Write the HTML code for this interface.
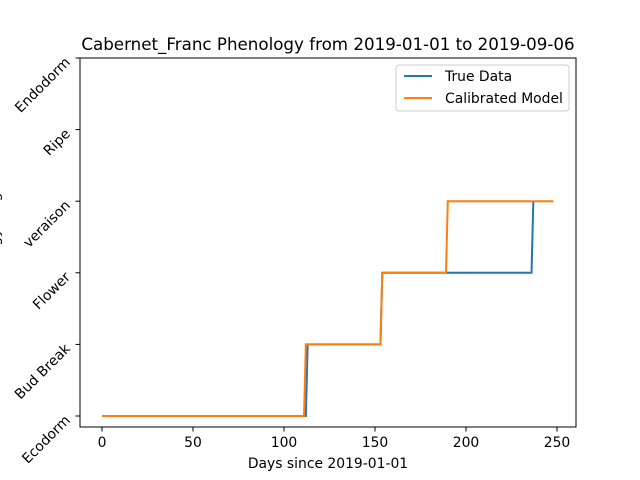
<!DOCTYPE html>
<html><head><meta charset="utf-8"><style>body{margin:0;background:#fff}svg{display:block;font-family:"DejaVu Sans","Liberation Sans",sans-serif}</style></head>
<body>
<svg id="c" width="640" height="480" xmlns="http://www.w3.org/2000/svg"></svg>
<script>
const stageLabels=["Ecodorm","Bud Break","Flower","veraison","Ripe","Endodorm"];
const xTicks=[0,50,100,150,200,250];
const trueDays=[0,112,113,153,154,236,237];
const trueStages=[0,0,1,1,2,2,3];
const calDays=[0,111,112,153,154,189,190,248];
const calStages=[0,0,1,1,2,2,3,3];
const L=80,R=576,T=58,B=427;
const x=d=>102+d*1.82;
const y=s=>416-s*71.6;
const svg=document.getElementById('c');
const NS='http://www.w3.org/2000/svg';
function mk(t,a,txt){const e=document.createElementNS(NS,t);for(const k in a)e.setAttribute(k,a[k]);if(txt!=null)e.textContent=txt;svg.appendChild(e);return e;}
function line(days,st,color,name){const e=mk('polyline',{points:days.map((d,i)=>x(d)+','+y(st[i])).join(' '),fill:'none',stroke:color,'stroke-width':2});

}
line(trueDays,trueStages,'#1f77b4','true-data-line');
line(calDays,calStages,'#ff7f0e','calibrated-model-line');
let ax=mk('rect',{x:L,y:T,width:R-L,height:B-T,fill:'none',stroke:'#000','stroke-width':1});


xTicks.forEach(v=>{mk('line',{x1:x(v),x2:x(v),y1:B,y2:B+4.5,stroke:'#000'});
let t=mk('text',{x:x(v),y:B+20,'font-size':13.9,'text-anchor':'middle'},v);

});
stageLabels.forEach((s,i)=>{const yy=y(i);mk('line',{x1:L-4.5,x2:L,y1:yy,y2:yy,stroke:'#000'});
let t=mk('text',{x:0,y:0,'font-size':13.9,'text-anchor':'end',transform:`translate(${L-9},${yy+5}) rotate(-45)`},s);

});
let xl=mk('text',{x:(L+R)/2,y:468,'font-size':13.9,'text-anchor':'middle'},'Days since 2019-01-01');


let yl=mk('text',{x:0,y:0,'font-size':13.9,'text-anchor':'middle',transform:`translate(-1,${(T+B)/2}) rotate(-90)`},'Phenology Stage');


let ti=mk('text',{x:(L+R)/2,y:50,'font-size':16.7,'text-anchor':'middle'},'Cabernet_Franc Phenology from 2019-01-01 to 2019-09-06');


let lg=mk('rect',{x:396,y:65,width:173,height:46,rx:3,fill:'#fff',stroke:'#ccc'});


[['True Data','#1f77b4',76],['Calibrated Model','#ff7f0e',98]].forEach(([n,c,yy])=>{mk('line',{x1:404,x2:432,y1:yy,y2:yy,stroke:c,'stroke-width':2});
let t=mk('text',{x:445,y:yy+5,'font-size':13.9},n);

});
</script>
</body></html>
